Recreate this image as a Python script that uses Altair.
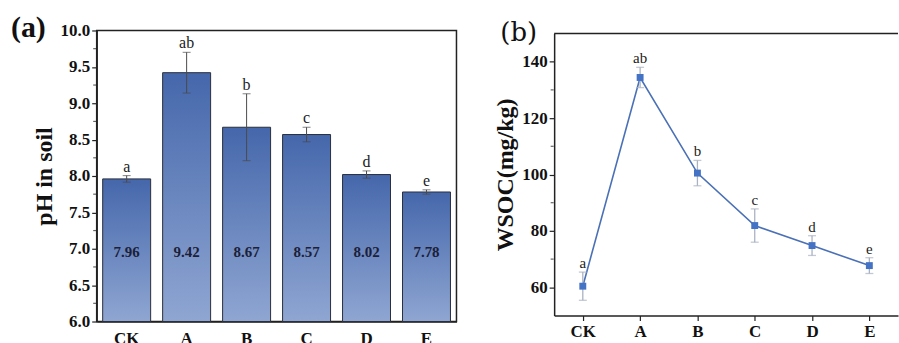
import altair as alt
import pandas as pd

groups = ["CK", "A", "B", "C", "D", "E"]
ph = [7.96, 9.42, 8.67, 8.57, 8.02, 7.78]
ph_err = [0.045, 0.28, 0.46, 0.10, 0.05, 0.03]
ph_letters = ["a", "ab", "b", "c", "d", "e"]
wsoc = [60.4, 134.4, 100.5, 81.9, 74.8, 67.7]
wsoc_err = [5.0, 3.6, 4.5, 5.9, 3.5, 2.8]
wsoc_letters = ["a", "ab", "b", "c", "d", "e"]
ph_major = [6.0, 6.5, 7.0, 7.5, 8.0, 8.5, 9.0, 9.5, 10.0]
ph_minor = [6.25, 6.75, 7.25, 7.75, 8.25, 8.75, 9.25, 9.75]
wsoc_major = [60, 80, 100, 120, 140]
wsoc_minor = [70, 90, 110, 130]
panel_labels = ["(a)", "(b)"]

SERIF = "Liberation Serif"
AXIS_C = "#222222"

df_a = pd.DataFrame({
    "group": groups,
    "ph": ph,
    "lo": [v - e for v, e in zip(ph, ph_err)],
    "hi": [v + e for v, e in zip(ph, ph_err)],
    "letter": ph_letters,
})
df_b = pd.DataFrame({
    "group": groups,
    "wsoc": wsoc,
    "lo": [v - e for v, e in zip(wsoc, wsoc_err)],
    "hi": [v + e for v, e in zip(wsoc, wsoc_err)],
    "letter": wsoc_letters,
})

# ---------- panel (a) ----------
WA, HA = 361, 292
xa = alt.X("group:N", sort=groups,
           scale=alt.Scale(paddingInner=0.2, paddingOuter=0.1),
           axis=alt.Axis(title=None, labelAngle=0, ticks=False, labelPadding=9,
                         labelBaseline="top"))
ya_scale = alt.Scale(domain=[6, 10], nice=False, zero=False)
ya_axis = alt.Axis(title="pH in soil", values=ph_major, labelOverlap=False,
                   format=".1f", tickSize=5, titlePadding=4, grid=False)


def ya(field):
    return alt.Y(field, scale=ya_scale, axis=ya_axis)


grad = alt.Gradient(gradient="linear",
                    stops=[alt.GradientStop(offset=0, color="#4567ab"),
                           alt.GradientStop(offset=1, color="#8fa6d2")],
                    x1=0, x2=0, y1=0, y2=1)

base_a = alt.Chart(df_a)
bars = base_a.mark_bar(color=grad, stroke="#2b2f3a", strokeWidth=1).encode(
    x=xa, y=ya("ph:Q"), y2=alt.datum(6))
err_a = base_a.mark_rule(color="#4a4a4a", strokeWidth=1).encode(
    x=xa, y=ya("lo:Q"), y2="hi:Q")
cap_hi_a = base_a.mark_tick(color="#4a4a4a", thickness=1, size=8).encode(
    x=xa, y=ya("hi:Q"))
cap_lo_a = base_a.mark_tick(color="#4a4a4a", thickness=1, size=8).encode(
    x=xa, y=ya("lo:Q"))
vals_a = base_a.mark_text(font=SERIF, fontWeight="bold", fontSize=15,
                          color="#1b2038", baseline="middle").encode(
    x=xa, y=alt.Y(datum=6.96, scale=ya_scale, axis=ya_axis),
    text=alt.Text("ph:Q", format=".2f"))
let_a = base_a.mark_text(font=SERIF, fontSize=16, color="#222",
                         baseline="bottom", dy=-1).encode(
    x=xa, y=ya("hi:Q"), text="letter:N")
minor_a = alt.Chart(pd.DataFrame({"v": ph_minor})).mark_tick(
    color=AXIS_C, thickness=1.2, size=3).encode(
    x=alt.value(-2), y=ya("v:Q"))
tag_a = alt.Chart(pd.DataFrame({"t": [panel_labels[0]]})).mark_text(
    font=SERIF, fontSize=30, fontWeight="bold", color="#111", align="left",
    baseline="alphabetic").encode(
    x=alt.value(-86), y=alt.value(7), text="t:N")

panel_a = alt.layer(bars, err_a, cap_hi_a, cap_lo_a, vals_a, let_a, minor_a, tag_a).properties(
    width=WA, height=HA,
    view=alt.ViewBackground(stroke=AXIS_C, strokeWidth=1.5))

# ---------- panel (b) ----------
WB, HB = 345, 286
TOPB = 3
xb = alt.X("group:N", sort=groups,
           scale=alt.Scale(type="point", padding=0.5),
           axis=alt.Axis(title=None, labelAngle=0, ticks=True, tickSize=5,
                         labelPadding=3, labelBaseline="top"))
yb_scale = alt.Scale(domain=[50, 150], nice=False, zero=False, range=[HB, TOPB])
yb_axis = alt.Axis(title="WSOC(mg/kg)", values=wsoc_major, labelOverlap=False,
                   format="d", tickSize=5, titlePadding=4, grid=False)


def yb(field):
    return alt.Y(field, scale=yb_scale, axis=yb_axis)


base_b = alt.Chart(df_b)
line_b = base_b.mark_line(color="#4a70b6", strokeWidth=1.6).encode(x=xb, y=yb("wsoc:Q"))
err_b = base_b.mark_rule(color="#aab2c2", strokeWidth=1.3).encode(
    x=xb, y=yb("lo:Q"), y2="hi:Q")
cap_hi_b = base_b.mark_tick(color="#aab2c2", thickness=1.3, size=8).encode(
    x=xb, y=yb("hi:Q"))
cap_lo_b = base_b.mark_tick(color="#aab2c2", thickness=1.3, size=8).encode(
    x=xb, y=yb("lo:Q"))
pts_b = base_b.mark_square(size=48, color="#4472c4", opacity=1).encode(
    x=xb, y=yb("wsoc:Q"))
let_b = base_b.mark_text(font=SERIF, fontSize=15, color="#222",
                         baseline="bottom", dy=-1).encode(
    x=xb, y=yb("hi:Q"), text="letter:N")
minor_b = alt.Chart(pd.DataFrame({"v": wsoc_minor})).mark_tick(
    color=AXIS_C, thickness=1.2, size=3).encode(
    x=alt.value(-2), y=yb("v:Q"))
top_b = alt.Chart(pd.DataFrame({"k": [0]})).mark_rule(color=AXIS_C, strokeWidth=1.5).encode(
    x=alt.value(0), x2=alt.value(WB), y=alt.value(TOPB))
tag_b = alt.Chart(pd.DataFrame({"t": [panel_labels[1]]})).mark_text(
    font="DejaVu Serif", fontSize=26, color="#111", align="left", baseline="alphabetic").encode(
    x=alt.value(-54), y=alt.value(11), text="t:N")

panel_b = alt.layer(line_b, err_b, cap_hi_b, cap_lo_b, pts_b, let_b, minor_b, top_b, tag_b).properties(
    width=WB, height=HB,
    view=alt.ViewBackground(stroke=None))

chart = alt.hconcat(panel_a, panel_b, spacing=36).properties(
    padding={"left": 10, "top": 12, "right": 0, "bottom": 0}
).configure_axis(
    labelFont=SERIF, labelFontWeight="bold", labelFontSize=17, labelColor="#111",
    titleFont=SERIF, titleFontWeight="bold", titleFontSize=24, titleColor="#111",
    domainColor=AXIS_C, domainWidth=1.5, tickColor=AXIS_C, tickWidth=1.2,
).configure_view(stroke=None)

chart.save("out.html", embed_options={"renderer": "svg", "actions": False})
